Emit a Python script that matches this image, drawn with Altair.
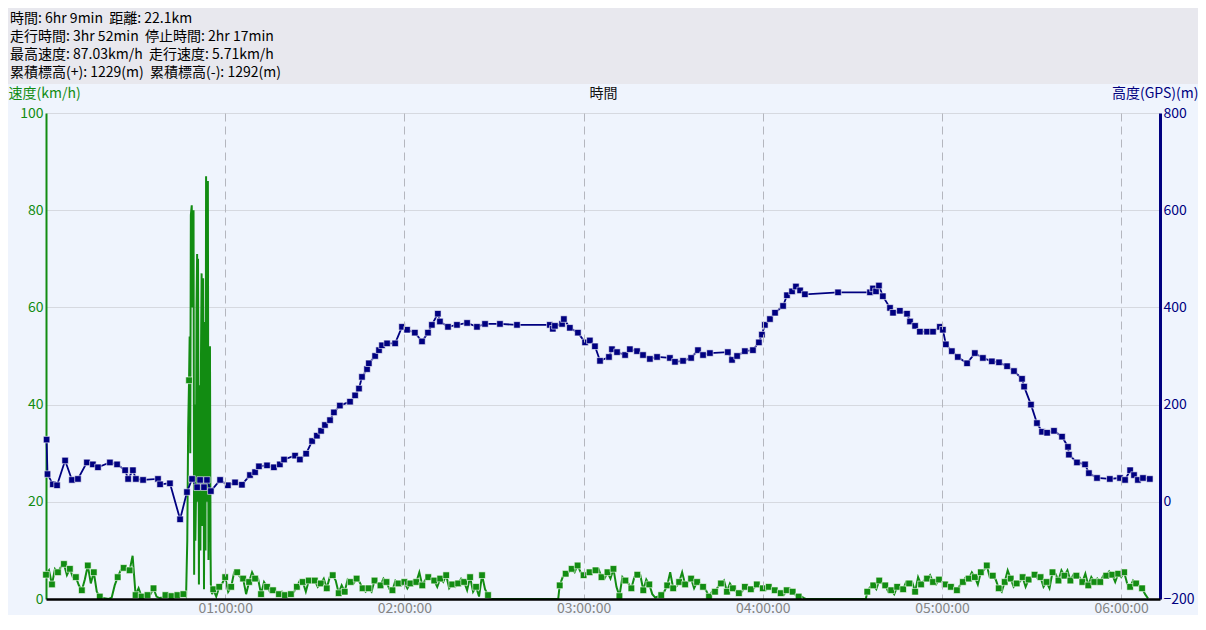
import altair as alt
import pandas as pd

# ---------------- header text ----------------
header_lines = [
    "時間: 6hr 9min \u00a0距離: 22.1km",
    "走行時間: 3hr 52min \u00a0停止時間: 2hr 17min",
    "最高速度: 87.03km/h \u00a0走行速度: 5.71km/h",
    "累積標高(+): 1229(m) \u00a0累積標高(-): 1292(m)",
]

# ---------------- speed (km/h), time in minutes ----------------
seg_a_start = 0
seg_a_v = [5.0, 5.9, 3.0, 6.2, 5.5, 6.6, 7.2, 4.9, 6.2, 4.5, 4.5, 2.8, 1.8, 4.0, 6.9, 3.2,
           5.5, 1.5, 0.5, 0.2, 0.1, 0.0, 0.3, 2.8, 4.5, 5.9, 6.4, 6.2, 5.9, 8.9, 0.8, 2.2,
           0.5, 0.5, 0.8, 1.0, 2.2, 0.5, 0.2, 0.3, 0.8, 0.5, 0.6, 0.8, 0.8, 0.5, 1.0]
spike_t = [46.9, 47.3, 47.6, 47.9, 48.1, 48.3, 48.5, 48.8, 49.1, 49.4, 49.6, 49.8,
           50.0, 50.2, 50.4, 50.6, 50.8, 50.9, 51.1, 51.2, 51.4, 51.7, 51.9, 52.1,
           52.3, 52.6, 52.8, 52.9, 53.1, 53.2, 53.4, 53.6, 53.8, 53.9, 54.1, 54.2,
           54.4, 54.6, 54.8, 54.9, 55.1, 55.2, 55.6]
spike_v = [0.5, 12, 35, 45, 54, 30, 79, 81, 60, 80, 5, 40,
           12, 20, 60, 71, 20, 70, 30, 3, 44, 10, 50, 67,
           15, 66, 30, 2, 40, 57, 10, 87, 40, 86, 20, 86,
           8, 52, 25, 52, 10, 3, 1]
seg_b_start = 56
seg_b_v = [2.0, 0.5, 2.5, 3.2, 4.5, 1.5, 2.5, 5.5, 5.5, 4.5, 4.2, 1.0, 3.5, 5.5, 4.2, 4.2,
           1.0, 3.5, 2.5, 1.5, 1.8, 1.5, 1.0, 1.5, 0.8, 1.2, 1.0, 1.5, 2.5, 3.8, 3.5, 1.5,
           3.8, 3.5, 3.8, 2.5, 3.2,
           4.2, 2.2, 4.5, 4.9, 3.8, 1.2, 2.8, 1.5, 4.0, 3.5, 3.2, 4.2, 3.5, 2.2, 1.5, 2.2,
           1.5, 3.8, 3.2, 2.8, 4.2, 3.5, 2.0, 1.8, 3.8, 3.2, 2.8, 3.5, 2.2, 3.2, 3.8, 3.5,
           5.5, 2.8, 4.0, 4.5, 4.2, 3.8, 2.5, 4.2, 3.5, 4.9, 2.2, 3.0, 2.5, 3.2, 4.2, 3.5,
           1.8, 4.5, 1.5, 2.5, 0.5, 4.9, 2.0, 0.8]
seg_c_start = 172
seg_c_v = [2.8, 4.5, 5.2, 5.5, 6.2, 5.5, 6.9, 5.5, 4.9, 5.2, 5.5, 6.0,
           5.9, 6.2, 4.5, 4.2, 5.5, 4.2, 6.2, 2.5, 0.6, 4.5, 3.8, 3.2, 2.2, 4.5, 5.0, 4.9,
           1.8, 4.0, 3.0, 1.0, 0.3, 0.5, 0.8, 1.5, 2.8, 5.5, 2.2, 2.5, 3.5, 5.5, 3.0, 3.5,
           4.2, 2.2, 3.5, 3.2, 2.5, 1.8, 0.5, 1.5, 1.5, 2.5, 3.2, 3.8, 1.5, 3.2, 2.2, 1.5,
           1.2, 1.5, 2.5, 2.2, 2.0, 2.2, 3.0, 2.5, 2.2, 1.8, 2.5, 2.2, 1.8, 1.5, 1.2, 0.8,
           1.8, 2.2, 1.5, 0.8, 0.5, 0.5, 0.1]
seg_d_start = 275
seg_d_v = [1.5, 2.5, 2.8, 2.0, 3.8, 3.2, 2.8, 1.5, 1.8, 1.0, 2.5, 2.2, 2.0, 3.5, 3.2, 3.5,
           1.5, 4.5, 3.0, 3.8, 4.2, 4.9, 3.5, 3.0, 4.0, 3.5, 3.0, 2.8, 2.5, 2.2, 1.8, 2.8,
           3.5, 4.5, 4.2, 5.5, 4.5, 3.0, 5.5, 5.9, 6.9, 4.5, 4.8, 4.0, 2.2, 1.5, 3.5, 5.9,
           4.2, 2.5, 3.2, 3.5, 4.5, 2.5, 4.0, 4.5, 5.0, 4.2, 4.5, 2.5, 3.5, 2.2, 5.5, 5.2,
           3.8, 5.9, 4.8, 5.9, 3.8, 5.0, 4.8, 4.5, 3.5, 5.2, 2.8, 4.5, 3.5, 4.2, 3.5, 4.8,
           4.8, 5.7, 5.0, 3.5, 5.2, 4.5, 5.5, 3.2, 2.5, 3.8, 3.2, 2.8, 2.2, 1.0, 0.1]
stop_t = [148.6, 171.5, 254.5, 274.5]
stop_v = [0, 0, 0, 0]

# ---------------- altitude (m), time in minutes ----------------
alt_t = [0.2, 0.5, 2.3, 3.7, 6.4, 8.7, 10.7, 13.7, 15.7, 17.4,
         21.4, 23.8, 26.5, 27.5, 29.1, 30.1, 32.5, 37.5, 38.2, 41.5,
         44.9, 47.2, 48.9, 50.6, 51.6, 52.9, 53.9, 55.2, 58.3, 60.9,
         63.3, 65.6, 68.3, 70.0, 71.3, 74.0, 76.3, 78.3, 79.7, 83.4,
         85.0, 87.1, 89.1, 90.7, 92.1, 93.4, 95.1, 96.4, 98.4, 101.8,
         103.5, 104.8, 105.8, 107.5, 108.1, 110.2, 111.5, 112.5, 114.2, 116.9,
         119.2, 120.9, 123.5, 125.9, 127.9, 129.2, 131.2, 131.9, 134.6, 137.6,
         141.0, 144.3, 147.0, 152.0, 157.7, 168.7, 169.7, 170.4, 172.8, 173.4,
         175.4, 178.1, 180.5, 182.1, 183.8, 185.5, 188.5, 189.5, 191.2, 193.9,
         195.5, 197.9, 199.9, 202.2, 204.6, 208.9, 210.6, 213.3, 216.0, 218.3,
         220.0, 222.3, 228.3, 229.7, 231.4, 234.0, 236.7, 238.7, 239.7, 240.7,
         242.4, 244.1, 246.8, 248.1, 249.8, 251.1, 252.5, 254.1, 265.2, 275.9,
         276.9, 277.9, 278.9, 280.2, 282.6, 283.6, 285.9, 288.3, 289.3, 291.0,
         292.6, 295.0, 297.0, 299.3, 300.3, 301.3, 303.3, 305.3, 308.4, 311.0,
         313.7, 316.7, 319.1, 321.8, 324.1, 326.8, 327.5, 329.8, 331.8, 333.5,
         335.2, 337.5, 340.2, 342.2, 342.5, 345.2, 347.9, 349.2, 351.9, 356.2,
         359.6, 361.3, 363.0, 364.3, 365.6, 367.3, 369.6]
alt_v = [128, 57, 36, 34, 85, 45, 47, 81, 77, 71,
         81, 77, 65, 47, 65, 47, 45, 47, 36, 38,
         -36, 20, 47, 30, 45, 30, 45, 22, 45, 34,
         40, 35, 55, 61, 73, 75, 71, 77, 87, 95,
         87, 99, 125, 136, 146, 158, 168, 184, 198, 206,
         219, 233, 257, 273, 285, 300, 312, 322, 326, 326,
         360, 354, 348, 330, 348, 364, 387, 371, 360, 364,
         368, 360, 366, 366, 364, 364, 356, 362, 366, 376,
         358, 348, 328, 332, 320, 290, 298, 314, 308, 302,
         314, 310, 302, 294, 298, 296, 288, 290, 296, 312,
         302, 306, 308, 292, 300, 310, 312, 328, 344, 364,
         376, 389, 403, 425, 433, 443, 435, 427, 431, 431,
         439, 433, 445, 423, 399, 389, 393, 387, 371, 362,
         350, 350, 350, 360, 354, 324, 310, 298, 285, 306,
         296, 289, 287, 279, 269, 253, 237, 200, 162, 144,
         142, 146, 134, 113, 97, 81, 77, 59, 49, 47,
         49, 45, 65, 55, 45, 49, 47]

hour_ticks = [60, 120, 180, 240, 300, 360]
speed_ticks = [0, 20, 40, 60, 80, 100]
alt_ticks = [-200, 0, 200, 400, 600, 800]

# ---------------- build tables ----------------
rows = []
for start, vals in [(seg_a_start, seg_a_v), (seg_b_start, seg_b_v),
                    (seg_c_start, seg_c_v), (seg_d_start, seg_d_v)]:
    for i, v in enumerate(vals):
        rows.append({"t": start + i, "v": v, "mk": i % 2 == 0})
for t, v in zip(spike_t, spike_v):
    rows.append({"t": t, "v": v, "mk": v == 45})
for t, v in zip(stop_t, stop_v):
    rows.append({"t": t, "v": v, "mk": False})
speed_df = pd.DataFrame(rows).sort_values("t").reset_index(drop=True)
speed_mk = speed_df[(speed_df["mk"]) & (speed_df["v"] > 0.3)]

alt_df = pd.DataFrame({"t": alt_t, "a": alt_v})
header_df = pd.DataFrame({"row": list(range(len(header_lines))), "line": header_lines})

# ---------------- style ----------------
FONT = "Noto Sans CJK JP"
GREEN = "#128c12"
NAVY = "#000080"
BG = "#eff4fd"
HEAD_BG = "#e8e8ee"
W = 1190
H = 486
PL = 38          # plot-left inset
PR = 1152        # plot-right
TMAX = 373

x_scale = alt.Scale(domain=[0, TMAX], range=[PL, PR], nice=False, zero=False)

x_axis = alt.Axis(values=hour_ticks,
                  labelExpr="'0' + (datum.value / 60) + ':00:00'",
                  title="時間", titleX=(PL + PR) / 2, titleY=-(H + 20),
                  titleAlign="center", titleBaseline="middle", titleAngle=0,
                  titleColor="#111111", titleFontWeight="normal", titleFontSize=14,
                  labelColor="#858585", labelFontSize=14, labelPadding=2,
                  ticks=False, domainColor="#000000", domainWidth=2.5,
                  grid=True, gridDash=[8, 5], gridColor="#b4b6be", gridWidth=1,
                  zindex=1)

left_axis = alt.Axis(values=speed_ticks, orient="left", offset=-PL,
                     title="速度(km/h)", titleAngle=0, titleAlign="left",
                     titleBaseline="middle", titleX=-PL, titleY=-20,
                     titleColor=GREEN, titleFontWeight="normal", titleFontSize=14,
                     labelColor=GREEN, labelFontSize=14, labelPadding=3,
                     ticks=False, domainColor=GREEN, domainWidth=2,
                     grid=True, gridColor="#d6d9e0", gridWidth=1)

right_axis = alt.Axis(values=alt_ticks, orient="right", offset=-(W - PR),
                      title="高度(GPS)(m)", titleAngle=0, titleAlign="right",
                      titleBaseline="middle", titleX=(W - PR), titleY=-20,
                      titleColor=NAVY, titleFontWeight="normal", titleFontSize=14,
                      labelColor=NAVY, labelFontSize=14, labelPadding=3,
                      ticks=False, domainColor=NAVY, domainWidth=3, grid=False)

xs = alt.X("t:Q", scale=x_scale, axis=x_axis)
ys = alt.Y("v:Q", scale=alt.Scale(domain=[0, 100], nice=False), axis=left_axis)
ya = alt.Y("a:Q", scale=alt.Scale(domain=[-200, 800], nice=False), axis=right_axis)

sp_line = alt.Chart(speed_df).mark_line(color=GREEN, strokeWidth=2).encode(x=xs, y=ys)
sp_pts = alt.Chart(speed_mk).mark_square(color=GREEN, size=44, opacity=1, filled=True,
                                         stroke="#ffffff", strokeWidth=0.6).encode(x=xs, y=ys)
al_line = alt.Chart(alt_df).mark_line(color=NAVY, strokeWidth=1.8).encode(x=xs, y=ya)
al_pts = alt.Chart(alt_df).mark_square(color=NAVY, size=42, opacity=1, filled=True,
                                       stroke="#ffffff", strokeWidth=0.6).encode(x=xs, y=ya)

main = alt.layer(alt.layer(sp_line, sp_pts), alt.layer(al_line, al_pts)).resolve_scale(
    y="independent").properties(width=W, height=H)

header = alt.Chart(header_df).mark_text(align="left", baseline="middle", fontSize=14,
                                        font=FONT, color="#000000").encode(
    y=alt.Y("row:O", axis=None, scale=alt.Scale(padding=0.6)),
    x=alt.value(2),
    text="line:N",
).properties(width=W, height=76, view=alt.ViewBackground(fill=HEAD_BG, strokeWidth=0))

chart = alt.vconcat(header, main, spacing=2).properties(
    padding=0, background=BG
).configure_view(strokeWidth=0).configure_axis(
    labelFont=FONT, titleFont=FONT
).configure_text(font=FONT)

chart.save("out.html", embed_options={"renderer": "svg", "actions": False})
